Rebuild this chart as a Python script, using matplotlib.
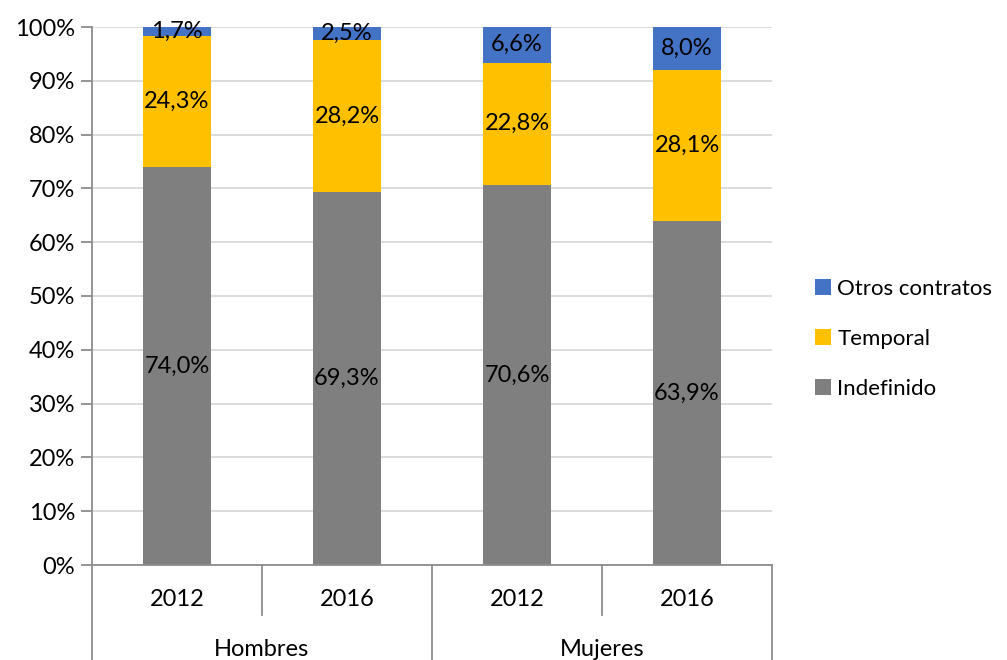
import matplotlib.pyplot as plt
import matplotlib.transforms as mtransforms
import numpy as np

years = ['2012', '2016', '2012', '2016']
groups = ['Hombres', 'Mujeres']
indefinido = [74.0, 69.3, 70.6, 63.9]
temporal = [24.3, 28.2, 22.8, 28.1]
otros = [1.7, 2.5, 6.6, 8.0]

plt.rcParams['font.family'] = ['Lato', 'DejaVu Sans']
fs = 17

fig = plt.figure(figsize=(10.07, 6.6), dpi=100)
ax = fig.add_axes([92/1007, 1-565/660, 680/1007, 538/660])

x = np.arange(len(years))
w = 0.4
ind = np.array(indefinido) / 100
tem = np.array(temporal) / 100
otr = np.array(otros) / 100

b1 = ax.bar(x, ind, w, color='#7F7F7F', label='Indefinido', zorder=2)
b2 = ax.bar(x, tem, w, bottom=ind, color='#FFC000', label='Temporal', zorder=2)
b3 = ax.bar(x, otr, w, bottom=ind + tem, color='#4472C4', label='Otros contratos', zorder=2)

def fmt(v):
    return f'{v:.1f}%'.replace('.', ',')

for bars, vals, bottoms in [(b1, indefinido, np.zeros(4)), (b2, temporal, ind), (b3, otros, ind + tem)]:
    for xi, v, b in zip(x, vals, bottoms):
        ax.text(xi, b + v / 200, fmt(v), ha='center', va='center', fontsize=fs, zorder=3)

ax.set_xlim(-0.5, 3.5)
ax.set_ylim(0, 1)
ax.set_yticks(np.arange(0, 1.01, 0.1))
ax.set_yticklabels([f'{int(round(t*100))}%' for t in np.arange(0, 1.01, 0.1)], fontsize=fs)
ax.yaxis.grid(True, color='#D9D9D9', linewidth=1.3, zorder=0)
ax.set_axisbelow(True)
ax.tick_params(axis='y', length=8, color='#8C8C8C', width=1.3, pad=4)
ax.set_xticks([])
for s in ['top', 'right']:
    ax.spines[s].set_visible(False)
ax.spines['left'].set_color('#8C8C8C')
ax.spines['bottom'].set_color('#8C8C8C')
ax.spines['left'].set_linewidth(1.3)
ax.spines['bottom'].set_linewidth(1.3)

# multi-level category axis
trans = mtransforms.blended_transform_factory(ax.transData, ax.transAxes)
for xb in [0.5, 2.5]:
    ax.plot([xb, xb], [0, -50/538], transform=trans, color='#8C8C8C', lw=1.3, clip_on=False)
for xb in [-0.5, 1.5, 3.5]:
    ax.plot([xb, xb], [0, -0.2], transform=trans, color='#8C8C8C', lw=1.3, clip_on=False)
for xi, y in zip(x, years):
    ax.text(xi, -35/538, y, transform=trans, ha='center', va='center', fontsize=fs)
for gi, g in enumerate(groups):
    ax.text(0.5 + 2 * gi, -85/538, g, transform=trans, ha='center', va='center', fontsize=fs)

ax.legend(handles=[b3, b2, b1], loc='center left', bbox_to_anchor=(795/1007, 1-339/660),
          bbox_transform=fig.transFigure, frameon=False, fontsize=16,
          handlelength=0.7, handleheight=0.7, handletextpad=0.3, labelspacing=1.35)

fig.savefig('out.png', dpi=100)
